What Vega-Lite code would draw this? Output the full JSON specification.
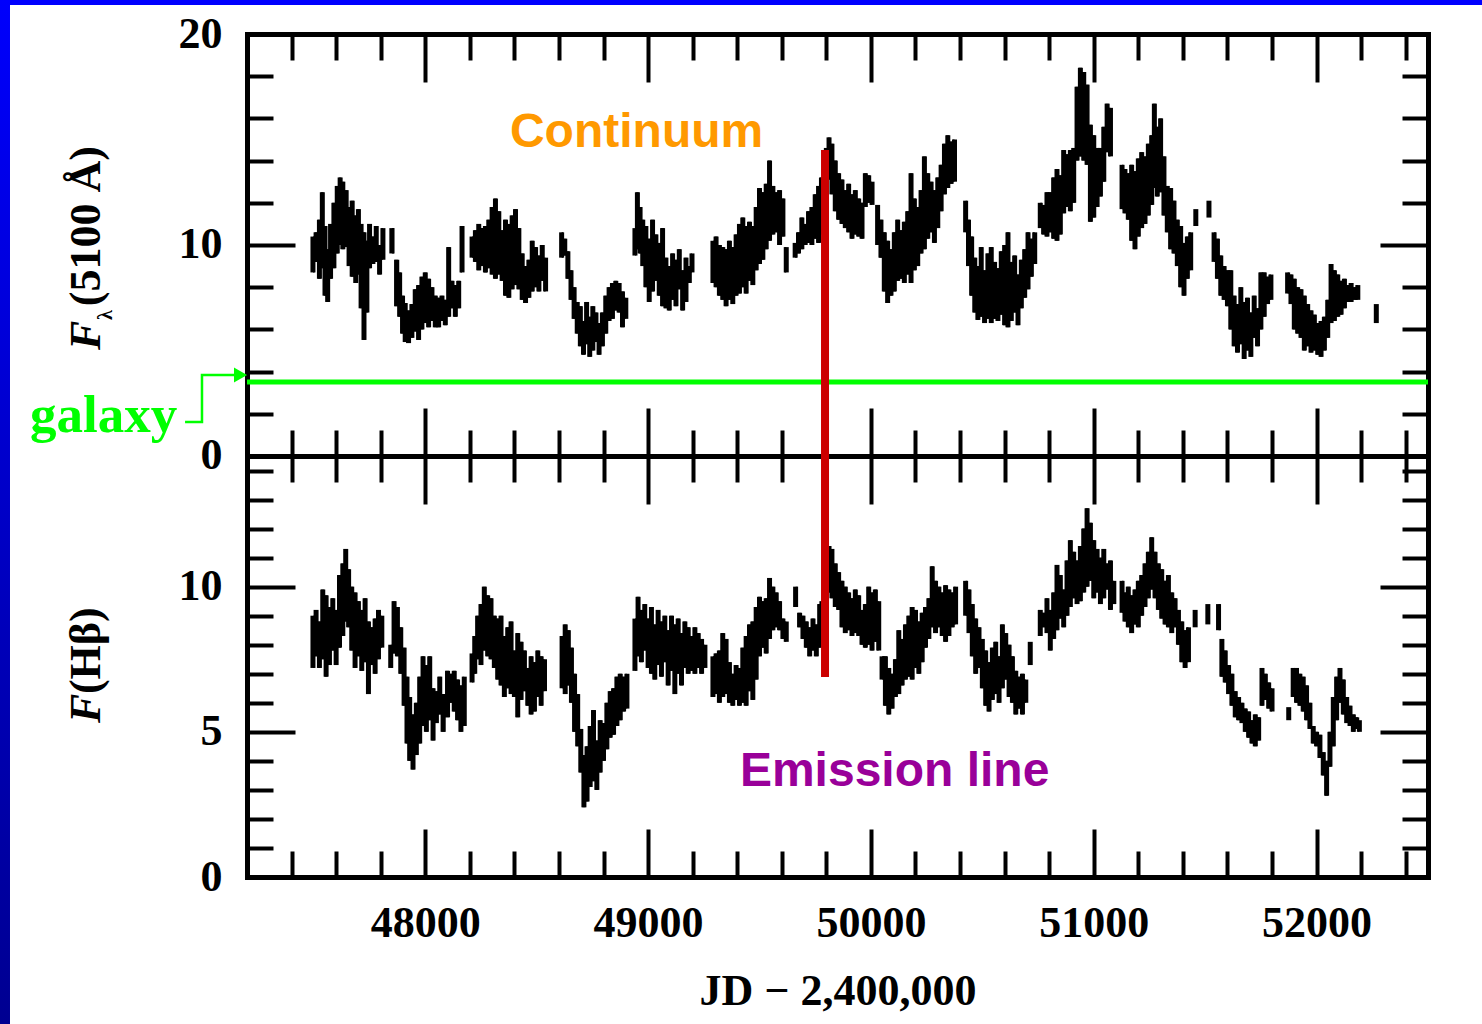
{
"$schema": "https://vega.github.io/schema/vega-lite/v6.json",
"width": 1181, "height": 843,
"autosize": {"type": "none"},
"padding": {"left": 247, "top": 34, "right": 54, "bottom": 147},
"background": "white",
"config": {
 "view": {"stroke": null},
 "axis": {"grid": false, "domainColor": "black", "domainWidth": 5, "domainCap": "square", "tickColor": "black", "tickWidth": 4, "tickCap": "butt", "labelFont": "Liberation Serif", "labelFontWeight": "bold", "labelFontSize": 44, "labelColor": "black", "labelFlush": false, "labelOverlap": false, "titleFont": "Liberation Serif", "titleFontWeight": "bold", "titleFontSize": 44, "titleColor": "black", "zindex": 0}
},
"resolve": {"scale": {"y": "independent"}, "axis": {"x": "independent", "y": "independent"}},
"datasets": {
 "frameTop": [{"t": 46000, "t2": 53200, "f": 23, "f2": 21.374}],
 "frameLeft": [{"t": 46000, "t2": 46136.4, "f": 23, "f2": -30}],
 "galaxyLevel": [{"t": 47200, "t2": 52500, "f": 3.51}],
 "redTop": [{"t": 49794, "f": 14.5, "f2": 0}],
 "redBot": [{"t": 49794, "f": 14.5, "f2": 6.89}],
 "cont": [
{"s":1,"t":47496,"lo":8.7,"hi":10.4},{"s":1,"t":47510,"lo":9.2,"hi":10.6},{"s":1,"t":47525,"lo":8.4,"hi":11.2},{"s":1,"t":47538,"lo":8.9,"hi":12.5},{"s":1,"t":47550,"lo":7.6,"hi":10.9},{"s":1,"t":47562,"lo":7.3,"hi":9.8},{"s":1,"t":47575,"lo":8.4,"hi":11.0},{"s":1,"t":47590,"lo":8.9,"hi":12.0},{"s":1,"t":47605,"lo":9.6,"hi":12.8},{"s":1,"t":47618,"lo":10.0,"hi":13.2},{"s":1,"t":47630,"lo":9.8,"hi":13.0},{"s":1,"t":47645,"lo":9.9,"hi":12.6},{"s":1,"t":47658,"lo":9.0,"hi":11.8},{"s":1,"t":47672,"lo":8.5,"hi":12.1},{"s":1,"t":47688,"lo":8.2,"hi":11.4},{"s":1,"t":47700,"lo":8.6,"hi":11.7},{"s":1,"t":47712,"lo":7.0,"hi":11.0},{"s":1,"t":47725,"lo":5.5,"hi":10.6},{"s":1,"t":47738,"lo":6.8,"hi":10.2},{"s":1,"t":47750,"lo":8.9,"hi":11.0},{"s":1,"t":47765,"lo":9.1,"hi":10.4},{"s":1,"t":47780,"lo":9.2,"hi":10.9},{"s":1,"t":47795,"lo":8.6,"hi":10.0},{"s":1,"t":47810,"lo":9.3,"hi":10.8},
{"s":2,"t":47850,"lo":9.6,"hi":10.8},{"s":2,"t":47872,"lo":7.1,"hi":9.3},{"s":2,"t":47885,"lo":6.6,"hi":8.7},{"s":2,"t":47898,"lo":5.8,"hi":7.6},{"s":2,"t":47910,"lo":5.4,"hi":7.25},{"s":2,"t":47925,"lo":5.35,"hi":6.9},{"s":2,"t":47940,"lo":5.6,"hi":7.2},{"s":2,"t":47955,"lo":5.9,"hi":7.9},{"s":2,"t":47970,"lo":5.5,"hi":8.1},{"s":2,"t":47985,"lo":6.0,"hi":8.5},{"s":2,"t":48000,"lo":6.3,"hi":8.7},{"s":2,"t":48015,"lo":6.1,"hi":8.4},{"s":2,"t":48030,"lo":6.4,"hi":8.0},{"s":2,"t":48045,"lo":6.1,"hi":7.6},{"s":2,"t":48060,"lo":6.1,"hi":7.5},{"s":2,"t":48075,"lo":6.4,"hi":7.6},{"s":2,"t":48090,"lo":6.2,"hi":7.4},{"s":2,"t":48105,"lo":6.6,"hi":9.9},{"s":2,"t":48120,"lo":7.0,"hi":8.3},{"s":2,"t":48135,"lo":6.6,"hi":8.1},{"s":2,"t":48150,"lo":7.0,"hi":8.3},{"s":2,"t":48165,"lo":8.7,"hi":10.9},
{"s":3,"t":48210,"lo":9.4,"hi":10.4},{"s":3,"t":48225,"lo":9.2,"hi":10.7},{"s":3,"t":48240,"lo":8.8,"hi":11.0},{"s":3,"t":48255,"lo":9.0,"hi":10.8},{"s":3,"t":48270,"lo":8.7,"hi":10.9},{"s":3,"t":48285,"lo":8.9,"hi":11.2},{"s":3,"t":48300,"lo":8.6,"hi":11.8},{"s":3,"t":48315,"lo":8.4,"hi":12.2},{"s":3,"t":48330,"lo":8.6,"hi":11.6},{"s":3,"t":48345,"lo":8.3,"hi":10.7},{"s":3,"t":48360,"lo":7.6,"hi":11.2},{"s":3,"t":48375,"lo":7.5,"hi":11.0},{"s":3,"t":48390,"lo":7.9,"hi":11.4},{"s":3,"t":48405,"lo":8.1,"hi":11.7},{"s":3,"t":48420,"lo":7.9,"hi":10.8},{"s":3,"t":48435,"lo":7.4,"hi":9.6},{"s":3,"t":48450,"lo":7.25,"hi":9.0},{"s":3,"t":48465,"lo":7.5,"hi":9.3},{"s":3,"t":48480,"lo":7.8,"hi":10.2},{"s":3,"t":48495,"lo":8.0,"hi":9.9},{"s":3,"t":48510,"lo":7.8,"hi":9.5},{"s":3,"t":48525,"lo":8.3,"hi":10.0},{"s":3,"t":48540,"lo":7.8,"hi":9.4},
{"s":4,"t":48612,"lo":9.4,"hi":10.6},{"s":4,"t":48626,"lo":9.5,"hi":10.3},{"s":4,"t":48640,"lo":8.4,"hi":9.7},{"s":4,"t":48654,"lo":7.4,"hi":8.8},{"s":4,"t":48668,"lo":6.5,"hi":8.0},{"s":4,"t":48682,"lo":5.8,"hi":7.3},{"s":4,"t":48696,"lo":5.2,"hi":7.1},{"s":4,"t":48710,"lo":4.8,"hi":6.4},{"s":4,"t":48724,"lo":5.3,"hi":7.3},{"s":4,"t":48738,"lo":4.7,"hi":6.6},{"s":4,"t":48752,"lo":5.0,"hi":7.1},{"s":4,"t":48766,"lo":5.4,"hi":6.8},{"s":4,"t":48780,"lo":4.8,"hi":6.3},{"s":4,"t":48795,"lo":5.2,"hi":6.8},{"s":4,"t":48810,"lo":5.8,"hi":7.6},{"s":4,"t":48825,"lo":6.4,"hi":8.0},{"s":4,"t":48840,"lo":6.5,"hi":8.2},{"s":4,"t":48855,"lo":6.9,"hi":8.3},{"s":4,"t":48870,"lo":6.8,"hi":8.2},{"s":4,"t":48885,"lo":6.1,"hi":7.8},{"s":4,"t":48900,"lo":6.5,"hi":7.5},
{"s":5,"t":48941,"lo":9.5,"hi":10.8},{"s":5,"t":48952,"lo":9.8,"hi":12.5},{"s":5,"t":48964,"lo":9.6,"hi":11.8},{"s":5,"t":48976,"lo":9.0,"hi":11.2},{"s":5,"t":48990,"lo":8.0,"hi":10.9},{"s":5,"t":49005,"lo":7.3,"hi":10.3},{"s":5,"t":49020,"lo":7.8,"hi":11.2},{"s":5,"t":49035,"lo":8.3,"hi":10.5},{"s":5,"t":49050,"lo":7.6,"hi":10.1},{"s":5,"t":49065,"lo":7.1,"hi":10.8},{"s":5,"t":49080,"lo":7.0,"hi":9.4},{"s":5,"t":49095,"lo":6.9,"hi":9.0},{"s":5,"t":49110,"lo":7.4,"hi":9.6},{"s":5,"t":49125,"lo":7.1,"hi":9.3},{"s":5,"t":49140,"lo":7.9,"hi":9.8},{"s":5,"t":49155,"lo":6.9,"hi":8.8},{"s":5,"t":49170,"lo":7.3,"hi":9.4},{"s":5,"t":49185,"lo":8.2,"hi":9.0},{"s":5,"t":49197,"lo":8.7,"hi":9.6},
{"s":6,"t":49291,"lo":8.2,"hi":10.2},{"s":6,"t":49305,"lo":8.0,"hi":10.4},{"s":6,"t":49320,"lo":7.6,"hi":10.0},{"s":6,"t":49335,"lo":7.4,"hi":9.9},{"s":6,"t":49350,"lo":7.1,"hi":9.8},{"s":6,"t":49365,"lo":7.4,"hi":10.2},{"s":6,"t":49380,"lo":7.2,"hi":9.9},{"s":6,"t":49395,"lo":7.6,"hi":10.5},{"s":6,"t":49410,"lo":7.7,"hi":11.0},{"s":6,"t":49425,"lo":8.0,"hi":11.3},{"s":6,"t":49440,"lo":7.7,"hi":10.9},{"s":6,"t":49455,"lo":8.3,"hi":11.1},{"s":6,"t":49470,"lo":8.1,"hi":10.9},{"s":6,"t":49485,"lo":8.8,"hi":11.8},{"s":6,"t":49500,"lo":9.1,"hi":12.7},{"s":6,"t":49515,"lo":9.3,"hi":12.5},{"s":6,"t":49530,"lo":9.8,"hi":12.9},{"s":6,"t":49545,"lo":10.2,"hi":14.0},{"s":6,"t":49560,"lo":10.5,"hi":12.8},{"s":6,"t":49575,"lo":10.6,"hi":12.5},{"s":6,"t":49590,"lo":10.0,"hi":12.6},{"s":6,"t":49605,"lo":10.4,"hi":12.2},{"s":6,"t":49620,"lo":8.7,"hi":9.9},
{"s":7,"t":49660,"lo":9.4,"hi":10.1},{"s":7,"t":49675,"lo":9.6,"hi":10.6},{"s":7,"t":49690,"lo":9.8,"hi":11.3},{"s":7,"t":49705,"lo":10.0,"hi":11.0},{"s":7,"t":49720,"lo":10.1,"hi":11.6},{"s":7,"t":49735,"lo":10.0,"hi":11.8},{"s":7,"t":49750,"lo":10.3,"hi":12.4},{"s":7,"t":49765,"lo":10.1,"hi":12.8},{"s":7,"t":49778,"lo":10.5,"hi":13.2},
{"s":8,"t":49800,"lo":12.9,"hi":14.6},{"s":8,"t":49812,"lo":13.1,"hi":15.1},{"s":8,"t":49825,"lo":12.4,"hi":14.8},{"s":8,"t":49840,"lo":11.6,"hi":14.0},{"s":8,"t":49855,"lo":11.2,"hi":13.4},{"s":8,"t":49870,"lo":11.0,"hi":13.1},{"s":8,"t":49885,"lo":10.8,"hi":12.6},{"s":8,"t":49900,"lo":10.6,"hi":12.9},{"s":8,"t":49915,"lo":10.3,"hi":12.4},{"s":8,"t":49930,"lo":10.5,"hi":12.6},{"s":8,"t":49945,"lo":10.4,"hi":12.2},{"s":8,"t":49960,"lo":10.3,"hi":12.0},{"s":8,"t":49975,"lo":11.8,"hi":13.4},{"s":8,"t":49990,"lo":12.0,"hi":13.3},{"s":8,"t":50005,"lo":11.9,"hi":13.0},
{"s":9,"t":50030,"lo":10.0,"hi":11.9},{"s":9,"t":50045,"lo":9.4,"hi":11.2},{"s":9,"t":50060,"lo":7.8,"hi":10.6},{"s":9,"t":50075,"lo":7.25,"hi":10.2},{"s":9,"t":50090,"lo":7.6,"hi":9.8},{"s":9,"t":50105,"lo":7.8,"hi":10.6},{"s":9,"t":50120,"lo":8.3,"hi":11.2},{"s":9,"t":50135,"lo":8.4,"hi":10.7},{"s":9,"t":50150,"lo":8.2,"hi":11.1},{"s":9,"t":50165,"lo":8.6,"hi":11.6},{"s":9,"t":50180,"lo":8.2,"hi":13.4},{"s":9,"t":50195,"lo":8.8,"hi":12.2},{"s":9,"t":50210,"lo":9.0,"hi":11.8},{"s":9,"t":50225,"lo":9.6,"hi":12.6},{"s":9,"t":50240,"lo":9.8,"hi":14.2},{"s":9,"t":50255,"lo":10.3,"hi":13.4},{"s":9,"t":50270,"lo":10.6,"hi":13.0},{"s":9,"t":50285,"lo":10.1,"hi":12.6},{"s":9,"t":50300,"lo":10.8,"hi":13.2},{"s":9,"t":50315,"lo":11.6,"hi":13.8},{"s":9,"t":50330,"lo":12.4,"hi":14.8},{"s":9,"t":50345,"lo":12.7,"hi":15.2},{"s":9,"t":50360,"lo":12.9,"hi":14.9},{"s":9,"t":50375,"lo":13.0,"hi":15.0},
{"s":10,"t":50425,"lo":10.6,"hi":12.1},{"s":10,"t":50438,"lo":9.0,"hi":11.2},{"s":10,"t":50452,"lo":7.6,"hi":10.4},{"s":10,"t":50466,"lo":6.8,"hi":9.4},{"s":10,"t":50480,"lo":6.45,"hi":9.0},{"s":10,"t":50495,"lo":6.6,"hi":9.9},{"s":10,"t":50510,"lo":6.3,"hi":8.8},{"s":10,"t":50525,"lo":6.5,"hi":9.6},{"s":10,"t":50540,"lo":6.3,"hi":9.9},{"s":10,"t":50555,"lo":6.5,"hi":9.2},{"s":10,"t":50570,"lo":6.4,"hi":8.9},{"s":10,"t":50585,"lo":6.7,"hi":9.7},{"s":10,"t":50600,"lo":6.2,"hi":10.0},{"s":10,"t":50615,"lo":6.1,"hi":10.6},{"s":10,"t":50630,"lo":6.4,"hi":9.2},{"s":10,"t":50645,"lo":6.8,"hi":9.5},{"s":10,"t":50660,"lo":6.2,"hi":8.6},{"s":10,"t":50675,"lo":7.0,"hi":9.3},{"s":10,"t":50690,"lo":7.5,"hi":9.8},{"s":10,"t":50705,"lo":7.9,"hi":10.6},{"s":10,"t":50720,"lo":8.5,"hi":10.3},{"s":10,"t":50735,"lo":9.1,"hi":10.6},
{"s":11,"t":50760,"lo":10.8,"hi":12.0},{"s":11,"t":50775,"lo":10.5,"hi":11.9},{"s":11,"t":50790,"lo":10.4,"hi":12.5},{"s":11,"t":50805,"lo":10.6,"hi":12.5},{"s":11,"t":50820,"lo":10.3,"hi":13.2},{"s":11,"t":50835,"lo":10.2,"hi":13.6},{"s":11,"t":50850,"lo":10.5,"hi":13.3},{"s":11,"t":50865,"lo":11.5,"hi":14.5},{"s":11,"t":50880,"lo":11.8,"hi":14.3},{"s":11,"t":50895,"lo":11.6,"hi":14.5},{"s":11,"t":50910,"lo":12.0,"hi":14.6},{"s":11,"t":50925,"lo":14.0,"hi":17.5},{"s":11,"t":50940,"lo":14.2,"hi":18.4},{"s":11,"t":50955,"lo":14.0,"hi":18.2},{"s":11,"t":50970,"lo":13.8,"hi":17.6},{"s":11,"t":50985,"lo":11.1,"hi":15.7},{"s":11,"t":51000,"lo":11.3,"hi":15.2},{"s":11,"t":51015,"lo":11.8,"hi":14.6},{"s":11,"t":51030,"lo":12.3,"hi":14.6},{"s":11,"t":51045,"lo":13.0,"hi":15.6},{"s":11,"t":51060,"lo":14.4,"hi":16.7},{"s":11,"t":51075,"lo":14.2,"hi":16.5},
{"s":12,"t":51127,"lo":11.7,"hi":13.8},{"s":12,"t":51140,"lo":11.5,"hi":13.6},{"s":12,"t":51155,"lo":11.2,"hi":13.4},{"s":12,"t":51170,"lo":10.2,"hi":13.8},{"s":12,"t":51185,"lo":9.8,"hi":13.5},{"s":12,"t":51200,"lo":10.4,"hi":14.1},{"s":12,"t":51215,"lo":10.8,"hi":14.4},{"s":12,"t":51230,"lo":11.0,"hi":14.2},{"s":12,"t":51245,"lo":11.4,"hi":14.8},{"s":12,"t":51260,"lo":11.9,"hi":15.2},{"s":12,"t":51272,"lo":12.7,"hi":16.7},{"s":12,"t":51285,"lo":12.3,"hi":15.6},{"s":12,"t":51300,"lo":12.5,"hi":16.0},{"s":12,"t":51315,"lo":11.4,"hi":14.2},{"s":12,"t":51330,"lo":10.6,"hi":12.8},{"s":12,"t":51345,"lo":9.8,"hi":12.7},{"s":12,"t":51360,"lo":9.6,"hi":12.1},{"s":12,"t":51375,"lo":9.0,"hi":11.2},{"s":12,"t":51390,"lo":8.0,"hi":10.9},{"s":12,"t":51405,"lo":7.6,"hi":10.1},{"s":12,"t":51420,"lo":8.4,"hi":10.4},{"s":12,"t":51435,"lo":8.8,"hi":10.6},
{"s":13,"t":51458,"lo":10.9,"hi":11.7},
{"s":14,"t":51517,"lo":11.3,"hi":12.1},
{"s":15,"t":51540,"lo":9.2,"hi":10.6},{"s":15,"t":51555,"lo":8.4,"hi":10.3},{"s":15,"t":51570,"lo":7.6,"hi":9.5},{"s":15,"t":51585,"lo":7.4,"hi":9.0},{"s":15,"t":51600,"lo":7.1,"hi":8.8},{"s":15,"t":51615,"lo":6.0,"hi":8.8},{"s":15,"t":51630,"lo":5.2,"hi":7.6},{"s":15,"t":51645,"lo":4.9,"hi":7.2},{"s":15,"t":51660,"lo":5.3,"hi":8.0},{"s":15,"t":51675,"lo":4.6,"hi":7.3},{"s":15,"t":51690,"lo":5.0,"hi":7.5},{"s":15,"t":51705,"lo":4.7,"hi":6.8},{"s":15,"t":51720,"lo":5.6,"hi":7.6},{"s":15,"t":51735,"lo":5.2,"hi":7.0},{"s":15,"t":51750,"lo":6.0,"hi":8.7},{"s":15,"t":51765,"lo":6.6,"hi":8.7},{"s":15,"t":51780,"lo":7.2,"hi":8.5},{"s":15,"t":51795,"lo":7.4,"hi":8.6},
{"s":16,"t":51870,"lo":7.7,"hi":8.7},{"s":16,"t":51885,"lo":7.2,"hi":8.6},{"s":16,"t":51900,"lo":6.0,"hi":8.4},{"s":16,"t":51915,"lo":5.8,"hi":8.0},{"s":16,"t":51930,"lo":5.6,"hi":7.9},{"s":16,"t":51945,"lo":5.0,"hi":7.6},{"s":16,"t":51960,"lo":5.2,"hi":7.2},{"s":16,"t":51975,"lo":4.9,"hi":6.9},{"s":16,"t":51990,"lo":5.0,"hi":6.7},{"s":16,"t":52005,"lo":4.8,"hi":6.3},{"s":16,"t":52020,"lo":4.7,"hi":6.4},{"s":16,"t":52035,"lo":5.0,"hi":6.6},{"s":16,"t":52050,"lo":5.6,"hi":7.4},{"s":16,"t":52065,"lo":6.3,"hi":9.1},{"s":16,"t":52080,"lo":6.4,"hi":8.8},{"s":16,"t":52095,"lo":6.6,"hi":8.6},{"s":16,"t":52110,"lo":6.7,"hi":8.3},{"s":16,"t":52125,"lo":7.0,"hi":8.4},{"s":16,"t":52140,"lo":7.3,"hi":8.1},{"s":16,"t":52155,"lo":7.3,"hi":8.2},{"s":16,"t":52170,"lo":7.4,"hi":8.0},{"s":16,"t":52185,"lo":7.4,"hi":8.1},
{"s":17,"t":52268,"lo":6.3,"hi":7.2}
 ],
 "hb": [
{"s":1,"t":47496,"lo":7.2,"hi":9.0},{"s":1,"t":47510,"lo":7.6,"hi":9.2},{"s":1,"t":47525,"lo":7.2,"hi":8.8},{"s":1,"t":47540,"lo":7.5,"hi":9.9},{"s":1,"t":47555,"lo":6.9,"hi":9.7},{"s":1,"t":47570,"lo":7.3,"hi":9.3},{"s":1,"t":47585,"lo":7.8,"hi":9.6},{"s":1,"t":47600,"lo":7.3,"hi":9.2},{"s":1,"t":47615,"lo":7.9,"hi":10.4},{"s":1,"t":47630,"lo":8.3,"hi":10.8},{"s":1,"t":47643,"lo":8.8,"hi":11.3},{"s":1,"t":47656,"lo":8.6,"hi":10.6},{"s":1,"t":47670,"lo":7.8,"hi":10.0},{"s":1,"t":47685,"lo":7.2,"hi":9.8},{"s":1,"t":47700,"lo":7.6,"hi":9.5},{"s":1,"t":47715,"lo":7.1,"hi":9.2},{"s":1,"t":47730,"lo":7.4,"hi":9.6},{"s":1,"t":47745,"lo":6.3,"hi":8.8},{"s":1,"t":47760,"lo":7.3,"hi":8.6},{"s":1,"t":47775,"lo":7.0,"hi":8.9},{"s":1,"t":47790,"lo":7.5,"hi":9.2},{"s":1,"t":47805,"lo":7.9,"hi":9.0},
{"s":2,"t":47845,"lo":7.2,"hi":8.0},{"s":2,"t":47860,"lo":7.7,"hi":9.5},{"s":2,"t":47875,"lo":7.6,"hi":9.3},{"s":2,"t":47890,"lo":7.0,"hi":8.6},{"s":2,"t":47905,"lo":5.9,"hi":7.9},{"s":2,"t":47918,"lo":4.6,"hi":6.9},{"s":2,"t":47930,"lo":4.0,"hi":6.2},{"s":2,"t":47945,"lo":3.7,"hi":5.6},{"s":2,"t":47960,"lo":4.2,"hi":6.0},{"s":2,"t":47975,"lo":4.6,"hi":6.9},{"s":2,"t":47990,"lo":5.2,"hi":7.6},{"s":2,"t":48005,"lo":5.0,"hi":7.3},{"s":2,"t":48020,"lo":5.4,"hi":7.6},{"s":2,"t":48035,"lo":4.7,"hi":6.5},{"s":2,"t":48050,"lo":5.3,"hi":6.4},{"s":2,"t":48065,"lo":5.6,"hi":6.9},{"s":2,"t":48080,"lo":5.0,"hi":6.3},{"s":2,"t":48100,"lo":5.5,"hi":7.1},{"s":2,"t":48115,"lo":6.0,"hi":7.0},{"s":2,"t":48130,"lo":5.7,"hi":7.1},{"s":2,"t":48145,"lo":5.4,"hi":6.8},{"s":2,"t":48160,"lo":5.0,"hi":6.6},{"s":2,"t":48175,"lo":5.2,"hi":6.9},
{"s":3,"t":48210,"lo":6.7,"hi":7.7},{"s":3,"t":48222,"lo":7.0,"hi":8.3},{"s":3,"t":48235,"lo":7.5,"hi":9.0},{"s":3,"t":48250,"lo":7.3,"hi":9.4},{"s":3,"t":48265,"lo":7.8,"hi":10.0},{"s":3,"t":48280,"lo":7.6,"hi":9.7},{"s":3,"t":48295,"lo":7.5,"hi":9.6},{"s":3,"t":48310,"lo":7.2,"hi":9.0},{"s":3,"t":48325,"lo":6.8,"hi":8.9},{"s":3,"t":48340,"lo":6.6,"hi":9.0},{"s":3,"t":48355,"lo":6.2,"hi":8.3},{"s":3,"t":48370,"lo":6.5,"hi":8.6},{"s":3,"t":48385,"lo":6.3,"hi":8.8},{"s":3,"t":48400,"lo":6.2,"hi":7.8},{"s":3,"t":48415,"lo":5.5,"hi":8.4},{"s":3,"t":48430,"lo":6.1,"hi":8.1},{"s":3,"t":48445,"lo":6.4,"hi":7.8},{"s":3,"t":48460,"lo":5.9,"hi":7.2},{"s":3,"t":48475,"lo":5.6,"hi":7.6},{"s":3,"t":48490,"lo":5.7,"hi":7.4},{"s":3,"t":48505,"lo":6.2,"hi":7.8},{"s":3,"t":48520,"lo":5.9,"hi":7.6},{"s":3,"t":48535,"lo":6.4,"hi":7.5},
{"s":4,"t":48614,"lo":6.5,"hi":8.3},{"s":4,"t":48628,"lo":6.3,"hi":8.7},{"s":4,"t":48642,"lo":6.6,"hi":8.5},{"s":4,"t":48656,"lo":6.0,"hi":7.9},{"s":4,"t":48670,"lo":5.0,"hi":7.0},{"s":4,"t":48684,"lo":4.5,"hi":6.3},{"s":4,"t":48698,"lo":3.6,"hi":5.1},{"s":4,"t":48712,"lo":2.4,"hi":4.2},{"s":4,"t":48726,"lo":2.6,"hi":4.5},{"s":4,"t":48740,"lo":3.1,"hi":5.2},{"s":4,"t":48755,"lo":3.3,"hi":5.75},{"s":4,"t":48770,"lo":3.0,"hi":4.7},{"s":4,"t":48785,"lo":3.6,"hi":5.4},{"s":4,"t":48800,"lo":4.0,"hi":5.3},{"s":4,"t":48815,"lo":4.4,"hi":6.0},{"s":4,"t":48830,"lo":4.8,"hi":6.4},{"s":4,"t":48845,"lo":4.9,"hi":6.5},{"s":4,"t":48860,"lo":5.2,"hi":6.9},{"s":4,"t":48875,"lo":5.4,"hi":7.0},{"s":4,"t":48890,"lo":5.7,"hi":6.9},{"s":4,"t":48905,"lo":5.8,"hi":7.0},
{"s":5,"t":48941,"lo":7.1,"hi":8.9},{"s":5,"t":48955,"lo":7.6,"hi":9.65},{"s":5,"t":48970,"lo":7.4,"hi":9.2},{"s":5,"t":48985,"lo":7.8,"hi":9.4},{"s":5,"t":49000,"lo":7.2,"hi":8.9},{"s":5,"t":49015,"lo":7.0,"hi":9.3},{"s":5,"t":49030,"lo":6.8,"hi":8.7},{"s":5,"t":49045,"lo":7.3,"hi":9.2},{"s":5,"t":49060,"lo":6.9,"hi":8.8},{"s":5,"t":49075,"lo":7.4,"hi":9.0},{"s":5,"t":49090,"lo":6.6,"hi":8.5},{"s":5,"t":49105,"lo":7.1,"hi":9.0},{"s":5,"t":49120,"lo":6.3,"hi":8.7},{"s":5,"t":49135,"lo":7.0,"hi":8.9},{"s":5,"t":49150,"lo":6.6,"hi":8.4},{"s":5,"t":49165,"lo":7.2,"hi":8.8},{"s":5,"t":49180,"lo":7.0,"hi":8.6},{"s":5,"t":49195,"lo":7.1,"hi":8.3},{"s":5,"t":49210,"lo":7.0,"hi":8.6},{"s":5,"t":49225,"lo":7.2,"hi":8.4},{"s":5,"t":49240,"lo":7.0,"hi":8.2},{"s":5,"t":49255,"lo":7.2,"hi":8.0},
{"s":6,"t":49291,"lo":6.2,"hi":7.6},{"s":6,"t":49305,"lo":6.3,"hi":7.7},{"s":6,"t":49320,"lo":6.0,"hi":7.8},{"s":6,"t":49335,"lo":6.2,"hi":8.4},{"s":6,"t":49350,"lo":6.3,"hi":8.2},{"s":6,"t":49365,"lo":6.0,"hi":7.4},{"s":6,"t":49380,"lo":5.9,"hi":7.0},{"s":6,"t":49395,"lo":6.1,"hi":7.3},{"s":6,"t":49410,"lo":5.9,"hi":7.2},{"s":6,"t":49425,"lo":6.0,"hi":7.9},{"s":6,"t":49440,"lo":5.9,"hi":8.3},{"s":6,"t":49455,"lo":6.4,"hi":8.7},{"s":6,"t":49470,"lo":6.1,"hi":8.8},{"s":6,"t":49485,"lo":6.8,"hi":9.3},{"s":6,"t":49500,"lo":7.6,"hi":9.65},{"s":6,"t":49515,"lo":7.9,"hi":9.5},{"s":6,"t":49530,"lo":7.7,"hi":9.6},{"s":6,"t":49545,"lo":8.2,"hi":10.3},{"s":6,"t":49560,"lo":8.5,"hi":10.0},{"s":6,"t":49575,"lo":8.6,"hi":9.8},{"s":6,"t":49590,"lo":8.5,"hi":9.5},{"s":6,"t":49605,"lo":8.2,"hi":8.9},{"s":6,"t":49620,"lo":8.1,"hi":8.8},
{"s":7,"t":49662,"lo":9.3,"hi":10.0},{"s":7,"t":49680,"lo":8.6,"hi":9.1},{"s":7,"t":49695,"lo":8.2,"hi":9.0},{"s":7,"t":49710,"lo":7.9,"hi":8.8},{"s":7,"t":49725,"lo":7.6,"hi":8.6},{"s":7,"t":49740,"lo":7.8,"hi":8.9},{"s":7,"t":49755,"lo":7.6,"hi":8.7},{"s":7,"t":49770,"lo":7.9,"hi":9.4},{"s":7,"t":49780,"lo":8.3,"hi":9.5},
{"s":8,"t":49800,"lo":9.2,"hi":10.6},{"s":8,"t":49812,"lo":9.8,"hi":11.4},{"s":8,"t":49825,"lo":9.6,"hi":11.3},{"s":8,"t":49840,"lo":9.3,"hi":10.8},{"s":8,"t":49855,"lo":9.2,"hi":10.5},{"s":8,"t":49870,"lo":8.6,"hi":10.2},{"s":8,"t":49885,"lo":8.4,"hi":10.0},{"s":8,"t":49900,"lo":8.5,"hi":9.8},{"s":8,"t":49915,"lo":8.3,"hi":9.6},{"s":8,"t":49930,"lo":8.4,"hi":9.9},{"s":8,"t":49945,"lo":8.3,"hi":9.7},{"s":8,"t":49960,"lo":8.0,"hi":9.2},{"s":8,"t":49975,"lo":7.9,"hi":9.4},{"s":8,"t":49990,"lo":8.0,"hi":10.0},{"s":8,"t":50005,"lo":7.8,"hi":9.8},{"s":8,"t":50020,"lo":8.1,"hi":9.9},{"s":8,"t":50035,"lo":7.8,"hi":9.5},
{"s":9,"t":50050,"lo":6.8,"hi":7.6},{"s":9,"t":50065,"lo":5.9,"hi":7.6},{"s":9,"t":50080,"lo":5.6,"hi":7.2},{"s":9,"t":50095,"lo":5.8,"hi":7.0},{"s":9,"t":50110,"lo":6.2,"hi":7.5},{"s":9,"t":50125,"lo":6.3,"hi":8.5},{"s":9,"t":50140,"lo":6.6,"hi":8.2},{"s":9,"t":50155,"lo":6.8,"hi":8.7},{"s":9,"t":50170,"lo":6.9,"hi":9.0},{"s":9,"t":50185,"lo":6.8,"hi":9.3},{"s":9,"t":50200,"lo":7.2,"hi":9.2},{"s":9,"t":50215,"lo":7.0,"hi":8.8},{"s":9,"t":50230,"lo":7.4,"hi":9.1},{"s":9,"t":50245,"lo":7.9,"hi":9.3},{"s":9,"t":50260,"lo":8.2,"hi":9.6},{"s":9,"t":50275,"lo":8.6,"hi":10.7},{"s":9,"t":50290,"lo":8.4,"hi":10.2},{"s":9,"t":50305,"lo":8.6,"hi":10.0},{"s":9,"t":50320,"lo":8.3,"hi":9.8},{"s":9,"t":50335,"lo":8.1,"hi":10.05},{"s":9,"t":50350,"lo":8.3,"hi":9.9},{"s":9,"t":50365,"lo":8.6,"hi":9.8},{"s":9,"t":50380,"lo":8.7,"hi":10.0},
{"s":10,"t":50425,"lo":9.0,"hi":10.2},{"s":10,"t":50440,"lo":8.4,"hi":9.9},{"s":10,"t":50455,"lo":7.6,"hi":9.4},{"s":10,"t":50470,"lo":7.0,"hi":8.9},{"s":10,"t":50485,"lo":7.2,"hi":8.6},{"s":10,"t":50500,"lo":6.5,"hi":8.2},{"s":10,"t":50515,"lo":5.9,"hi":7.8},{"s":10,"t":50530,"lo":5.7,"hi":7.4},{"s":10,"t":50545,"lo":6.1,"hi":7.9},{"s":10,"t":50560,"lo":6.3,"hi":8.1},{"s":10,"t":50575,"lo":6.0,"hi":7.6},{"s":10,"t":50590,"lo":6.5,"hi":8.7},{"s":10,"t":50605,"lo":6.8,"hi":8.4},{"s":10,"t":50620,"lo":6.2,"hi":8.0},{"s":10,"t":50635,"lo":6.0,"hi":7.6},{"s":10,"t":50650,"lo":5.6,"hi":7.1},{"s":10,"t":50665,"lo":5.8,"hi":6.9},{"s":10,"t":50680,"lo":5.6,"hi":7.0},{"s":10,"t":50695,"lo":6.0,"hi":6.8},
{"s":11,"t":50715,"lo":7.3,"hi":8.1},
{"s":12,"t":50760,"lo":8.3,"hi":9.2},{"s":12,"t":50775,"lo":8.6,"hi":9.1},{"s":12,"t":50790,"lo":8.4,"hi":9.6},{"s":12,"t":50805,"lo":7.8,"hi":9.2},{"s":12,"t":50820,"lo":8.2,"hi":9.8},{"s":12,"t":50835,"lo":8.5,"hi":10.75},{"s":12,"t":50850,"lo":8.9,"hi":10.4},{"s":12,"t":50865,"lo":8.6,"hi":9.9},{"s":12,"t":50880,"lo":9.0,"hi":10.9},{"s":12,"t":50895,"lo":9.3,"hi":11.6},{"s":12,"t":50910,"lo":9.6,"hi":11.2},{"s":12,"t":50925,"lo":9.4,"hi":10.9},{"s":12,"t":50940,"lo":9.5,"hi":11.4},{"s":12,"t":50955,"lo":9.8,"hi":12.0},{"s":12,"t":50970,"lo":10.0,"hi":12.7},{"s":12,"t":50985,"lo":10.2,"hi":12.2},{"s":12,"t":51000,"lo":9.6,"hi":11.6},{"s":12,"t":51015,"lo":9.8,"hi":11.3},{"s":12,"t":51030,"lo":9.4,"hi":11.0},{"s":12,"t":51045,"lo":9.6,"hi":11.3},{"s":12,"t":51060,"lo":9.9,"hi":10.8},{"s":12,"t":51075,"lo":9.2,"hi":10.9},{"s":12,"t":51090,"lo":9.4,"hi":10.2},
{"s":13,"t":51127,"lo":9.1,"hi":10.2},{"s":13,"t":51140,"lo":8.8,"hi":9.8},{"s":13,"t":51155,"lo":8.6,"hi":10.0},{"s":13,"t":51170,"lo":8.4,"hi":9.7},{"s":13,"t":51185,"lo":8.7,"hi":9.9},{"s":13,"t":51200,"lo":8.6,"hi":10.2},{"s":13,"t":51215,"lo":9.0,"hi":10.4},{"s":13,"t":51230,"lo":9.3,"hi":10.8},{"s":13,"t":51245,"lo":9.6,"hi":11.2},{"s":13,"t":51260,"lo":9.9,"hi":11.7},{"s":13,"t":51275,"lo":9.6,"hi":11.2},{"s":13,"t":51290,"lo":9.2,"hi":10.8},{"s":13,"t":51305,"lo":8.9,"hi":10.6},{"s":13,"t":51320,"lo":8.7,"hi":10.2},{"s":13,"t":51335,"lo":8.6,"hi":10.4},{"s":13,"t":51350,"lo":8.4,"hi":9.8},{"s":13,"t":51365,"lo":8.6,"hi":9.6},{"s":13,"t":51380,"lo":8.0,"hi":9.2},{"s":13,"t":51395,"lo":7.4,"hi":8.8},{"s":13,"t":51410,"lo":7.2,"hi":8.5},{"s":13,"t":51425,"lo":7.4,"hi":8.6},
{"s":14,"t":51455,"lo":8.6,"hi":9.2},
{"s":15,"t":51512,"lo":8.7,"hi":9.4},
{"s":17,"t":51560,"lo":8.5,"hi":9.4},{"s":17,"t":51575,"lo":6.9,"hi":8.2},{"s":17,"t":51590,"lo":6.7,"hi":7.8},{"s":17,"t":51605,"lo":6.3,"hi":7.3},{"s":17,"t":51620,"lo":5.9,"hi":7.0},{"s":17,"t":51635,"lo":5.5,"hi":6.4},{"s":17,"t":51650,"lo":5.4,"hi":6.2},{"s":17,"t":51665,"lo":5.3,"hi":6.0},{"s":17,"t":51680,"lo":5.0,"hi":5.8},{"s":17,"t":51695,"lo":4.8,"hi":5.7},{"s":17,"t":51710,"lo":4.6,"hi":5.4},{"s":17,"t":51725,"lo":4.5,"hi":5.6},{"s":17,"t":51740,"lo":4.7,"hi":5.5},{"s":17,"t":51755,"lo":5.9,"hi":7.2},{"s":17,"t":51770,"lo":6.1,"hi":7.0},{"s":17,"t":51785,"lo":5.8,"hi":6.7},{"s":17,"t":51800,"lo":5.7,"hi":6.5},
{"s":18,"t":51875,"lo":5.4,"hi":5.85},
{"s":19,"t":51895,"lo":6.2,"hi":7.2},{"s":19,"t":51910,"lo":6.0,"hi":7.2},{"s":19,"t":51925,"lo":5.9,"hi":7.0},{"s":19,"t":51940,"lo":5.7,"hi":6.9},{"s":19,"t":51955,"lo":5.4,"hi":6.6},{"s":19,"t":51970,"lo":5.1,"hi":6.0},{"s":19,"t":51985,"lo":4.6,"hi":5.2},{"s":19,"t":52000,"lo":4.5,"hi":5.0},{"s":19,"t":52015,"lo":4.1,"hi":4.9},{"s":19,"t":52030,"lo":3.5,"hi":4.3},{"s":19,"t":52045,"lo":2.8,"hi":4.0},{"s":19,"t":52060,"lo":3.8,"hi":5.0},{"s":19,"t":52075,"lo":4.5,"hi":6.2},{"s":19,"t":52090,"lo":5.4,"hi":6.9},{"s":19,"t":52105,"lo":6.0,"hi":7.2},{"s":19,"t":52120,"lo":5.6,"hi":6.8},{"s":19,"t":52135,"lo":5.3,"hi":6.2},{"s":19,"t":52150,"lo":5.2,"hi":5.9},{"s":19,"t":52165,"lo":5.0,"hi":5.6},{"s":19,"t":52180,"lo":5.1,"hi":5.5},{"s":19,"t":52192,"lo":5.0,"hi":5.4}
 ],
 "arrow": [{"i":1,"t":46922,"f":1.61},{"i":2,"t":46998,"f":1.61},{"i":3,"t":46998,"f":3.84},{"i":4,"t":47142,"f":3.84}],
 "arrowHead": [{"t":47171,"f":3.84}],
 "galaxy": [{"t":46226,"f":1.14,"label":"galaxy"}],
 "contLabel": [{"t":48380,"f":14.64,"label":"Continuum"}],
 "lineLabel": [{"t":49412,"f":3.13,"label":"Emission line"}],
 "titleTopF": [{"t":46540,"f":5.02,"label":"F"}],
 "titleTopLam": [{"t":46594,"f":6.45,"label":"λ"}],
 "titleTopRest": [{"t":46540,"f":7.1,"label":"(5100 Å)"}],
 "titleBotF": [{"t":46540,"f":5.30,"label":"F"}],
 "titleBotRest": [{"t":46540,"f":6.30,"label":"(Hβ)"}]
},
"layer": [
 {"data": {"name": "frameTop"}, "mark": {"type": "rect", "color": "#0000FF"},
  "encoding": {"x": {"field": "t", "type": "quantitative", "scale": {"domain": [47200, 52500], "nice": false, "zero": false}, "axis": null}, "x2": {"field": "t2"},
   "y": {"field": "f", "type": "quantitative", "scale": {"domain": [-19.953, 20], "nice": false, "zero": false}, "axis": null}, "y2": {"field": "f2"}}},
 {"data": {"name": "frameLeft"}, "mark": {"type": "rect", "color": {"gradient": "linear", "x1": 0, "y1": 0, "x2": 0, "y2": 1, "stops": [{"offset": 0, "color": "#0000FF"}, {"offset": 1, "color": "#00008A"}]}},
  "encoding": {"x": {"field": "t", "type": "quantitative", "scale": {"domain": [47200, 52500], "nice": false, "zero": false}, "axis": null}, "x2": {"field": "t2"},
   "y": {"field": "f", "type": "quantitative", "scale": {"domain": [-19.953, 20], "nice": false, "zero": false}, "axis": null}, "y2": {"field": "f2"}}},
 {"data": {"name": "cont"}, "mark": {"type": "area", "interpolate": "step", "color": "black"},
  "encoding": {"x": {"field": "t", "type": "quantitative", "scale": {"domain": [47200, 52500], "nice": false, "zero": false},
     "axis": {"orient": "bottom", "values": [48000, 49000, 50000, 51000, 52000], "format": "d", "ticks": false, "domain": true, "labelPadding": 24, "title": "JD − 2,400,000", "titlePadding": 24}},
   "y": {"field": "lo", "type": "quantitative", "scale": {"domain": [-19.953, 20], "nice": false, "zero": false},
     "axis": {"orient": "left", "values": [0, 10, 20], "ticks": false, "domain": true, "labelPadding": 25, "title": null}},
   "y2": {"field": "hi"}, "detail": {"field": "s"}}},
 {"data": {"name": "cont"}, "mark": {"type": "rule", "color": "black", "strokeWidth": 5},
  "encoding": {"x": {"field": "t", "type": "quantitative", "scale": {"domain": [47200, 52500], "nice": false, "zero": false},
     "axis": {"orient": "top", "offset": -843, "values": [48000, 49000, 50000, 51000, 52000], "tickSize": 48, "labels": false, "domain": false, "title": null}},
   "y": {"field": "lo", "type": "quantitative", "scale": {"domain": [-19.953, 20], "nice": false, "zero": false},
     "axis": {"orient": "right", "offset": -1181, "values": [10], "tickSize": 48, "labels": false, "domain": false, "title": null}},
   "y2": {"field": "hi"}}},
 {"data": {"name": "hb"}, "mark": {"type": "area", "interpolate": "step", "color": "black"},
  "encoding": {"x": {"field": "t", "type": "quantitative", "scale": {"domain": [47200, 52500], "nice": false, "zero": false},
     "axis": {"orient": "top", "offset": -422, "ticks": false, "labels": false, "domain": true, "title": null}},
   "y": {"field": "lo", "type": "quantitative", "scale": {"domain": [0, 29.035], "nice": false, "zero": false},
     "axis": {"orient": "left", "values": [0, 5, 10], "ticks": false, "domain": false, "labelPadding": 25, "title": null}},
   "y2": {"field": "hi"}, "detail": {"field": "s"}}},
 {"data": {"name": "hb"}, "mark": {"type": "rule", "color": "black", "strokeWidth": 5},
  "encoding": {"x": {"field": "t", "type": "quantitative", "scale": {"domain": [47200, 52500], "nice": false, "zero": false},
     "axis": {"orient": "bottom", "offset": -843, "values": [48000, 49000, 50000, 51000, 52000], "tickSize": 48, "labels": false, "domain": true, "title": null}},
   "y": {"field": "lo", "type": "quantitative", "scale": {"domain": [0, 29.035], "nice": false, "zero": false},
     "axis": {"orient": "right", "offset": -1181, "values": [5, 10], "tickSize": 48, "labels": false, "domain": false, "title": null}},
   "y2": {"field": "hi"}}},
 {"data": {"name": "galaxyLevel"}, "mark": {"type": "rule", "color": "#00FF00", "strokeWidth": 5},
  "encoding": {"x": {"field": "t", "type": "quantitative", "scale": {"domain": [47200, 52500], "nice": false, "zero": false},
     "axis": {"orient": "top", "offset": -843, "values": [47400, 47600, 47800, 48200, 48400, 48600, 48800, 49200, 49400, 49600, 49800, 50200, 50400, 50600, 50800, 51200, 51400, 51600, 51800, 52200, 52400], "tickSize": 26, "labels": false, "domain": false, "title": null}},
   "x2": {"field": "t2"},
   "y": {"field": "f", "type": "quantitative", "scale": {"domain": [-19.953, 20], "nice": false, "zero": false},
     "axis": {"orient": "right", "offset": -1181, "values": [2, 4, 6, 8, 12, 14, 16, 18], "tickSize": 26, "labels": false, "domain": false, "title": null}}}},
 {"data": {"name": "arrow"}, "mark": {"type": "line", "color": "#00FF00", "strokeWidth": 2.5},
  "encoding": {"x": {"field": "t", "type": "quantitative", "scale": {"domain": [47200, 52500], "nice": false, "zero": false},
     "axis": {"orient": "top", "offset": -448, "values": [47400, 47600, 47800, 48200, 48400, 48600, 48800, 49200, 49400, 49600, 49800, 50200, 50400, 50600, 50800, 51200, 51400, 51600, 51800, 52200, 52400], "tickSize": 52, "labels": false, "domain": false, "title": null}},
   "y": {"field": "f", "type": "quantitative", "scale": {"domain": [-19.953, 20], "nice": false, "zero": false},
     "axis": {"orient": "left", "offset": -1181, "values": [2, 4, 6, 8, 12, 14, 16, 18], "tickSize": 26, "labels": false, "domain": false, "title": null}},
   "order": {"field": "i"}}},
 {"data": {"name": "arrowHead"}, "mark": {"type": "point", "shape": "triangle-right", "filled": true, "color": "#00FF00", "size": 230, "opacity": 1},
  "encoding": {"x": {"field": "t", "type": "quantitative", "scale": {"domain": [47200, 52500], "nice": false, "zero": false}, "axis": null},
   "y": {"field": "f", "type": "quantitative", "scale": {"domain": [-19.953, 20], "nice": false, "zero": false}, "axis": null}}},
 {"data": {"name": "redTop"}, "mark": {"type": "rule", "color": "#CC0000", "strokeWidth": 8},
  "encoding": {"x": {"field": "t", "type": "quantitative", "scale": {"domain": [47200, 52500], "nice": false, "zero": false},
     "axis": {"orient": "top", "offset": -470, "values": [48000, 49000, 50000, 51000, 52000], "tickSize": 96, "labels": false, "domain": false, "title": null}},
   "y": {"field": "f", "type": "quantitative", "scale": {"domain": [-19.953, 20], "nice": false, "zero": false},
     "axis": {"orient": "left", "offset": -1181, "values": [10], "tickSize": 48, "labels": false, "domain": true, "title": null}},
   "y2": {"field": "f2"}}},
 {"data": {"name": "redBot"}, "mark": {"type": "rule", "color": "#CC0000", "strokeWidth": 8},
  "encoding": {"x": {"field": "t", "type": "quantitative", "scale": {"domain": [47200, 52500], "nice": false, "zero": false},
     "axis": {"orient": "bottom", "offset": -843, "values": [47400, 47600, 47800, 48200, 48400, 48600, 48800, 49200, 49400, 49600, 49800, 50200, 50400, 50600, 50800, 51200, 51400, 51600, 51800, 52200, 52400], "tickSize": 26, "labels": false, "domain": false, "title": null}},
   "y": {"field": "f", "type": "quantitative", "scale": {"domain": [0, 29.035], "nice": false, "zero": false},
     "axis": {"orient": "right", "offset": -1181, "values": [1, 2, 3, 4, 6, 7, 8, 9, 11, 12, 13, 14], "tickSize": 26, "labels": false, "domain": false, "title": null}},
   "y2": {"field": "f2"}}},
 {"data": {"name": "galaxy"}, "mark": {"type": "text", "font": "Liberation Serif", "fontWeight": "bold", "fontSize": 53, "color": "#00FF00", "align": "left", "baseline": "alphabetic"},
  "encoding": {"x": {"field": "t", "type": "quantitative", "scale": {"domain": [47200, 52500], "nice": false, "zero": false}, "axis": null},
   "y": {"field": "f", "type": "quantitative", "scale": {"domain": [-19.953, 20], "nice": false, "zero": false}, "axis": null}, "text": {"field": "label"}}},
 {"data": {"name": "contLabel"}, "mark": {"type": "text", "font": "Liberation Sans", "fontWeight": "bold", "fontSize": 48, "color": "#FF9900", "align": "left", "baseline": "alphabetic"},
  "encoding": {"x": {"field": "t", "type": "quantitative", "scale": {"domain": [47200, 52500], "nice": false, "zero": false}, "axis": null},
   "y": {"field": "f", "type": "quantitative", "scale": {"domain": [-19.953, 20], "nice": false, "zero": false}, "axis": null}, "text": {"field": "label"}}},
 {"data": {"name": "lineLabel"}, "mark": {"type": "text", "font": "Liberation Sans", "fontWeight": "bold", "fontSize": 48, "color": "#990099", "align": "left", "baseline": "alphabetic"},
  "encoding": {"x": {"field": "t", "type": "quantitative", "scale": {"domain": [47200, 52500], "nice": false, "zero": false}, "axis": null},
   "y": {"field": "f", "type": "quantitative", "scale": {"domain": [0, 29.035], "nice": false, "zero": false},
     "axis": {"orient": "left", "offset": -1181, "values": [5, 10], "tickSize": 48, "labels": false, "domain": false, "title": null}}, "text": {"field": "label"}}},
 {"data": {"name": "titleTopF"}, "mark": {"type": "text", "font": "Liberation Serif", "fontWeight": "bold", "fontStyle": "italic", "fontSize": 44, "color": "black", "align": "left", "baseline": "alphabetic", "angle": 270},
  "encoding": {"x": {"field": "t", "type": "quantitative", "scale": {"domain": [47200, 52500], "nice": false, "zero": false}, "axis": null},
   "y": {"field": "f", "type": "quantitative", "scale": {"domain": [-19.953, 20], "nice": false, "zero": false}, "axis": null}, "text": {"field": "label"}}},
 {"data": {"name": "titleTopLam"}, "mark": {"type": "text", "font": "Liberation Serif", "fontWeight": "bold", "fontSize": 20, "color": "black", "align": "left", "baseline": "alphabetic", "angle": 270},
  "encoding": {"x": {"field": "t", "type": "quantitative", "scale": {"domain": [47200, 52500], "nice": false, "zero": false}, "axis": null},
   "y": {"field": "f", "type": "quantitative", "scale": {"domain": [-19.953, 20], "nice": false, "zero": false}, "axis": null}, "text": {"field": "label"}}},
 {"data": {"name": "titleTopRest"}, "mark": {"type": "text", "font": "Liberation Serif", "fontWeight": "bold", "fontSize": 44, "color": "black", "align": "left", "baseline": "alphabetic", "angle": 270},
  "encoding": {"x": {"field": "t", "type": "quantitative", "scale": {"domain": [47200, 52500], "nice": false, "zero": false}, "axis": null},
   "y": {"field": "f", "type": "quantitative", "scale": {"domain": [-19.953, 20], "nice": false, "zero": false}, "axis": null}, "text": {"field": "label"}}},
 {"data": {"name": "titleBotF"}, "mark": {"type": "text", "font": "Liberation Serif", "fontWeight": "bold", "fontStyle": "italic", "fontSize": 44, "color": "black", "align": "left", "baseline": "alphabetic", "angle": 270},
  "encoding": {"x": {"field": "t", "type": "quantitative", "scale": {"domain": [47200, 52500], "nice": false, "zero": false}, "axis": null},
   "y": {"field": "f", "type": "quantitative", "scale": {"domain": [0, 29.035], "nice": false, "zero": false},
     "axis": {"orient": "left", "offset": -1181, "values": [1, 2, 3, 4, 6, 7, 8, 9, 11, 12, 13, 14], "tickSize": 26, "labels": false, "domain": false, "title": null}}, "text": {"field": "label"}}},
 {"data": {"name": "titleBotRest"}, "mark": {"type": "text", "font": "Liberation Serif", "fontWeight": "bold", "fontSize": 44, "color": "black", "align": "left", "baseline": "alphabetic", "angle": 270},
  "encoding": {"x": {"field": "t", "type": "quantitative", "scale": {"domain": [47200, 52500], "nice": false, "zero": false}, "axis": null},
   "y": {"field": "f", "type": "quantitative", "scale": {"domain": [0, 29.035], "nice": false, "zero": false}, "axis": null}, "text": {"field": "label"}}}
]
}
